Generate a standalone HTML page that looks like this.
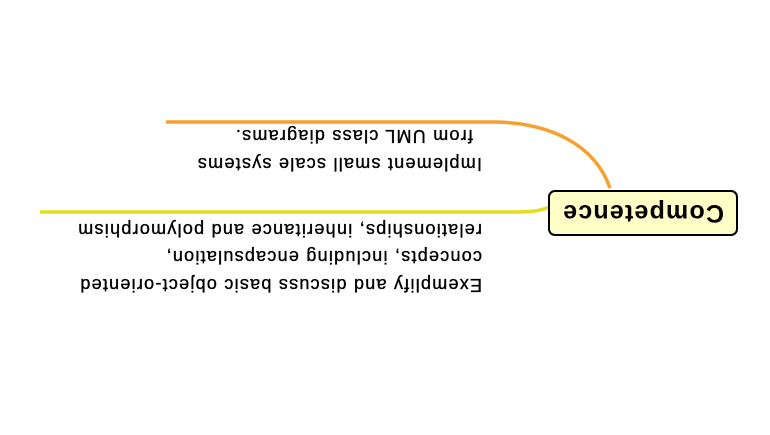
<!DOCTYPE html>
<html><head><style>
html,body{margin:0;padding:0;background:#fff;}
#c{position:relative;width:770px;height:435px;transform:rotate(180deg);overflow:hidden;font-family:"Liberation Sans",Arial,sans-serif;}
.t{position:absolute;left:288px;font-size:18px;line-height:27.5px;color:#000;white-space:nowrap;letter-spacing:1.25px;-webkit-text-stroke:0.35px #000;}
#box{position:absolute;left:32px;top:199px;width:186px;height:42px;border:2px solid #000;border-radius:7px;background:#ffffc8;font-weight:bold;font-size:25px;letter-spacing:1.2px;line-height:42px;text-align:center;}
</style></head><body>
<div id="c">
<svg width="770" height="435" style="position:absolute;left:0;top:0">
<path d="M218 229 C230 224 235 223 260 223 L730 223" stroke="#e0e020" stroke-width="3.5" fill="none"/>
<path d="M160 247 C175 290 220 313 278 313 L604 313" stroke="#f7a030" stroke-width="3.5" fill="none"/>
</svg>
<div class="t" style="top:137px">Exemplify and discuss basic object-oriented<br>concepts, including encapsulation,<br>relationships, inheritance and polymorphism</div>
<div class="t" style="top:258px">Implement small scale systems<br><span style="padding-left:9px">from UML class diagrams.</span></div>
<div id="box">Competence</div>
</div>
</body></html>
